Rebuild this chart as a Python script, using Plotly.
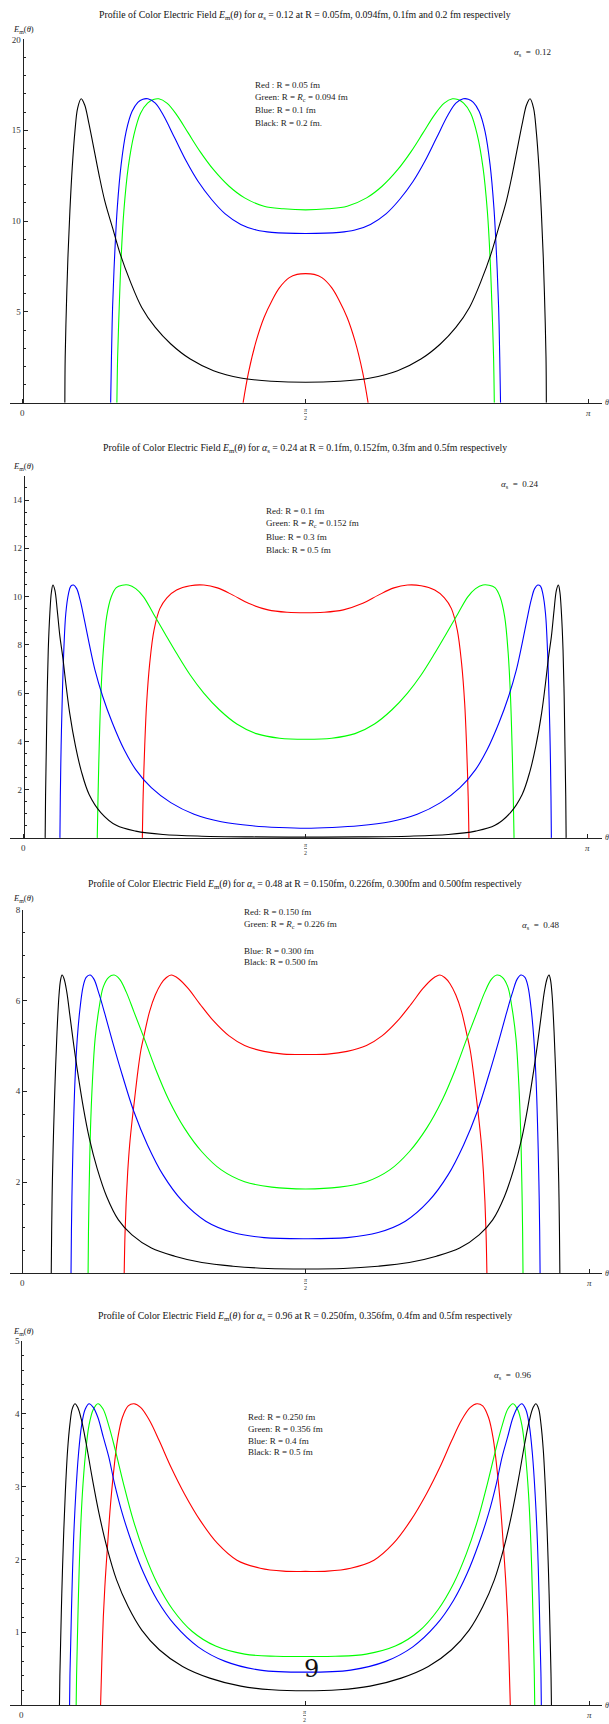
import plotly.graph_objects as go

W, H = 609, 1724

# ---------------- data: theta in units of pi (left half, 0 .. 1/2) ; E_m values ----------------
# Panel 1 : alpha_s = 0.12
p1_black_t = [0.0748, 0.0754, 0.0775, 0.0802, 0.0837, 0.0878, 0.0926, 0.0974, 0.1036, 0.1097, 0.1166, 0.1248,
              0.1351, 0.1454, 0.1591, 0.1728, 0.1900, 0.2106, 0.2346, 0.2620, 0.2963, 0.3374, 0.3855, 0.4403, 0.5]
p1_black_e = [0, 2.50, 5.25, 7.99, 10.55, 12.93, 14.94, 16.22, 16.73, 16.40, 15.48, 14.20,
              12.56, 11.10, 9.63, 8.17, 6.71, 5.25, 4.15, 3.24, 2.41, 1.77, 1.37, 1.19, 1.13]
p1_blue_t = [0.1557, 0.1571, 0.1591, 0.1626, 0.1674, 0.1742, 0.1831, 0.1934, 0.2037, 0.2126, 0.2215, 0.2346,
             0.2483, 0.2689, 0.2894, 0.3100, 0.3340, 0.3580, 0.3855, 0.4129, 0.4403, 0.5]
p1_blue_e = [0, 2.50, 5.25, 7.99, 10.73, 13.11, 14.94, 16.03, 16.54, 16.71, 16.73, 16.49,
             15.85, 14.57, 13.29, 12.19, 11.19, 10.40, 9.82, 9.51, 9.38, 9.32]
p1_green_t = [0.1667, 0.1680, 0.1708, 0.1742, 0.1790, 0.1866, 0.1968, 0.2085, 0.2209, 0.2311, 0.2407, 0.2551,
              0.2723, 0.2929, 0.3134, 0.3374, 0.3649, 0.3923, 0.4266, 0.4609, 0.5]
p1_green_e = [0, 2.50, 5.25, 7.99, 10.55, 12.93, 14.75, 15.94, 16.49, 16.69, 16.73, 16.49,
              15.85, 14.84, 13.84, 12.83, 11.92, 11.28, 10.82, 10.68, 10.62]
p1_red_t = [0.3896, 0.3992, 0.4129, 0.4266, 0.4403, 0.4540, 0.4712, 0.4849, 0.5]
p1_red_e = [0, 1.68, 3.42, 4.70, 5.61, 6.34, 6.89, 7.07, 7.11]

# Panel 2 : alpha_s = 0.24
p2_black_t = [0.0379, 0.0386, 0.0400, 0.0414, 0.0434, 0.0462, 0.0490, 0.0517, 0.0552, 0.0593, 0.0641, 0.0690,
              0.0745, 0.0814, 0.0917, 0.1021, 0.1159, 0.1366, 0.1641, 0.1986, 0.2469, 0.3159, 0.4055, 0.5]
p2_black_e = [0, 1.73, 3.80, 5.86, 7.79, 9.30, 10.19, 10.48, 10.26, 9.44, 8.34, 7.51,
              6.41, 5.17, 3.80, 2.76, 1.80, 1.05, 0.52, 0.28, 0.14, 0.07, 0.04, 0.03]
p2_blue_t = [0.0641, 0.0648, 0.0662, 0.0683, 0.0710, 0.0745, 0.0793, 0.0834, 0.0883, 0.0938, 0.1000, 0.1076,
             0.1159, 0.1262, 0.1400, 0.1572, 0.1779, 0.1986, 0.2262, 0.2607, 0.3021, 0.3503, 0.4055, 0.4538, 0.5]
p2_blue_e = [0, 1.73, 3.80, 5.86, 7.79, 9.30, 10.12, 10.43, 10.48, 10.33, 9.85, 9.02,
             8.06, 6.96, 5.86, 4.76, 3.66, 2.83, 2.08, 1.46, 0.98, 0.67, 0.50, 0.43, 0.40]
p2_green_t = [0.1303, 0.1317, 0.1338, 0.1366, 0.1407, 0.1469, 0.1552, 0.1641, 0.1745, 0.1855, 0.1986, 0.2124,
              0.2297, 0.2503, 0.2710, 0.2952, 0.3193, 0.3469, 0.3779, 0.4124, 0.4538, 0.5]
p2_green_e = [0, 1.73, 3.80, 5.86, 7.65, 9.16, 9.99, 10.37, 10.47, 10.48, 10.33, 9.99,
              9.30, 8.47, 7.65, 6.75, 6.00, 5.31, 4.72, 4.32, 4.13, 4.09]
p2_red_t = [0.2103, 0.2117, 0.2145, 0.2179, 0.2234, 0.2310, 0.2414, 0.2538, 0.2710, 0.2952, 0.3193, 0.3434,
            0.3710, 0.3986, 0.4331, 0.4676, 0.5]
p2_red_e = [0, 1.73, 3.80, 5.58, 7.24, 8.61, 9.50, 9.95, 10.27, 10.45, 10.48, 10.36,
            10.06, 9.72, 9.45, 9.35, 9.33]

# Panel 3 : alpha_s = 0.48
p3_black_t = [0.0514, 0.0521, 0.0534, 0.0555, 0.0582, 0.0616, 0.0651, 0.0678, 0.0705, 0.0740, 0.0788, 0.0842,
              0.0911, 0.0979, 0.1082, 0.1185, 0.1322, 0.1493, 0.1699, 0.1938, 0.2281, 0.2692, 0.3171, 0.3719,
              0.4336, 0.5]
p3_black_e = [0, 0.92, 2.01, 3.11, 4.21, 5.31, 6.12, 6.45, 6.56, 6.48, 6.19, 5.68,
              5.02, 4.43, 3.63, 2.97, 2.31, 1.68, 1.17, 0.84, 0.55, 0.37, 0.23, 0.15,
              0.10, 0.09]
p3_blue_t = [0.0863, 0.0870, 0.0884, 0.0904, 0.0932, 0.0973, 0.1021, 0.1075, 0.1130, 0.1199, 0.1267, 0.1356,
             0.1459, 0.1596, 0.1767, 0.1973, 0.2212, 0.2486, 0.2829, 0.3240, 0.3719, 0.4267, 0.5]
p3_blue_e = [0, 0.92, 2.01, 3.11, 4.21, 5.16, 5.82, 6.30, 6.51, 6.56, 6.47, 6.15,
             5.71, 5.09, 4.36, 3.55, 2.82, 2.16, 1.58, 1.14, 0.89, 0.78, 0.755]
p3_green_t = [0.1164, 0.1171, 0.1185, 0.1205, 0.1240, 0.1288, 0.1356, 0.1432, 0.1527, 0.1623, 0.1719, 0.1836,
              0.1973, 0.2144, 0.2349, 0.2589, 0.2863, 0.3171, 0.3514, 0.3925, 0.4404, 0.5]
p3_green_e = [0, 0.92, 2.01, 3.11, 4.21, 5.16, 5.82, 6.30, 6.51, 6.56, 6.47, 6.19,
              5.75, 5.20, 4.51, 3.81, 3.19, 2.67, 2.27, 2.01, 1.89, 1.85]
p3_red_t = [0.1801, 0.1815, 0.1836, 0.1863, 0.1897, 0.1938, 0.1986, 0.2041, 0.2096, 0.2158, 0.2247, 0.2349,
            0.2452, 0.2541, 0.2630, 0.2760, 0.2932, 0.3137, 0.3377, 0.3651, 0.3925, 0.4267, 0.4610, 0.5]
p3_red_e = [0, 0.84, 1.58, 2.23, 2.82, 3.33, 3.85, 4.43, 4.91, 5.27, 5.75, 6.12,
            6.37, 6.50, 6.56, 6.48, 6.26, 5.92, 5.55, 5.22, 5.01, 4.88, 4.82, 4.81]

# Panel 4 : alpha_s = 0.96
p4_black_t = [0.0670, 0.0677, 0.0690, 0.0711, 0.0738, 0.0772, 0.0813, 0.0854, 0.0895, 0.0943, 0.0991, 0.1059,
              0.1141, 0.1244, 0.1367, 0.1504, 0.1675, 0.1880, 0.2119, 0.2427, 0.2837, 0.3315, 0.3862, 0.4409, 0.5]
p4_black_e = [0, 0.39, 0.85, 1.53, 2.22, 2.90, 3.50, 3.86, 4.07, 4.14, 4.09, 3.91,
              3.59, 3.13, 2.63, 2.17, 1.72, 1.35, 1.03, 0.76, 0.53, 0.37, 0.26, 0.21, 0.196]
p4_blue_t = [0.0848, 0.0854, 0.0868, 0.0889, 0.0916, 0.0957, 0.1005, 0.1059, 0.1121, 0.1189, 0.1265, 0.1347,
             0.1442, 0.1538, 0.1640, 0.1777, 0.1948, 0.2153, 0.2392, 0.2700, 0.3110, 0.3588, 0.4204, 0.5]
p4_blue_e = [0, 0.39, 0.85, 1.53, 2.22, 2.90, 3.45, 3.84, 4.06, 4.14, 4.09, 3.95,
             3.68, 3.41, 3.04, 2.63, 2.22, 1.81, 1.44, 1.10, 0.80, 0.60, 0.48, 0.452]
p4_green_t = [0.0964, 0.0971, 0.0984, 0.1005, 0.1032, 0.1073, 0.1128, 0.1189, 0.1265, 0.1347, 0.1435, 0.1538,
              0.1654, 0.1798, 0.1969, 0.2167, 0.2392, 0.2666, 0.3008, 0.3418, 0.3930, 0.4477, 0.5]
p4_green_e = [0, 0.39, 0.85, 1.53, 2.22, 2.90, 3.45, 3.84, 4.06, 4.14, 4.07, 3.84,
              3.50, 3.04, 2.54, 2.08, 1.67, 1.31, 1.01, 0.81, 0.70, 0.67, 0.667]
p4_red_t = [0.1394, 0.1415, 0.1442, 0.1476, 0.1517, 0.1565, 0.1620, 0.1695, 0.1777, 0.1880, 0.1982, 0.2098,
            0.2256, 0.2427, 0.2632, 0.2871, 0.3144, 0.3452, 0.3794, 0.4204, 0.4614, 0.5]
p4_red_e = [0, 0.58, 1.21, 1.72, 2.20, 2.72, 3.18, 3.66, 3.95, 4.11, 4.14, 4.09,
            3.91, 3.63, 3.27, 2.90, 2.54, 2.22, 1.99, 1.88, 1.84, 1.836]

# ---------------- texts ----------------
alphas = ["0.12", "0.24", "0.48", "0.96"]
title_R = ["R = 0.05fm, 0.094fm, 0.1fm and 0.2 fm respectively",
           "R = 0.1fm, 0.152fm, 0.3fm and 0.5fm respectively",
           "R = 0.150fm, 0.226fm, 0.300fm and 0.500fm respectively",
           "R = 0.250fm, 0.356fm, 0.4fm and 0.5fm respectively"]
legend_texts = [
    ["Red : R = 0.05 fm", "Green: R = <i>R</i><sub>c</sub> = 0.094 fm", "Blue: R = 0.1 fm", "Black: R = 0.2 fm."],
    ["Red: R = 0.1 fm", "Green: R = <i>R</i><sub>c</sub> = 0.152 fm", "Blue: R = 0.3 fm", "Black: R = 0.5 fm"],
    ["Red: R = 0.150 fm", "Green: R = <i>R</i><sub>c</sub> = 0.226 fm", "Blue: R = 0.300 fm", "Black: R = 0.500 fm"],
    ["Red: R = 0.250 fm", "Green: R = 0.356 fm", "Blue: R = 0.4 fm", "Black: R = 0.5 fm"],
]
y_tickvals = [[5, 10, 15, 20], [2, 4, 6, 8, 10, 12, 14], [2, 4, 6, 8], [1, 2, 3, 4, 5]]
y_max = [20, 15, 8, 5]
y_minor = [1, 0.5, 0.5, 0.2]

curves = [
    [("red", p1_red_t, p1_red_e), ("#00ff00", p1_green_t, p1_green_e), ("blue", p1_blue_t, p1_blue_e), ("black", p1_black_t, p1_black_e)],
    [("red", p2_red_t, p2_red_e), ("#00ff00", p2_green_t, p2_green_e), ("blue", p2_blue_t, p2_blue_e), ("black", p2_black_t, p2_black_e)],
    [("red", p3_red_t, p3_red_e), ("#00ff00", p3_green_t, p3_green_e), ("blue", p3_blue_t, p3_blue_e), ("black", p3_black_t, p3_black_e)],
    [("red", p4_red_t, p4_red_e), ("#00ff00", p4_green_t, p4_green_e), ("blue", p4_blue_t, p4_blue_e), ("black", p4_black_t, p4_black_e)],
]

# ---------------- layout geometry (pixels) ----------------
geo = [
    dict(x0=22.5, xpi=588.7, ybot=399.0, ytop=34.5, title_y=10, em_y=24.5, ax=512, ay=48, lx=253, ly=[80, 93, 105.5, 118]),
    dict(x0=23.8, xpi=587.5, ybot=835.3, ytop=472.3, title_y=444, em_y=463, ax=499, ay=481, lx=264, ly=[507, 520, 533.5, 547]),
    dict(x0=22.1, xpi=589.0, ybot=1271.7, ytop=907.3, title_y=881.5, em_y=896, ax=520, ay=923, lx=242, ly=[910, 922, 948.3, 960]),
    dict(x0=21.4, xpi=589.5, ybot=1705.0, ytop=1340.0, title_y=1315, em_y=1330.5, ax=492, ay=1374, lx=246, ly=[1416.3, 1428.3, 1440.3, 1451.3]),
]

SERIF = "Liberation Serif"
AX = "#222222"


def px(x):
    return x / W


def py(y):
    return 1 - y / H


def mirrored(t, e):
    tt = list(t) + [1 - v for v in reversed(t[:-1])]
    ee = list(e) + list(reversed(e[:-1]))
    return tt, ee


fig = go.Figure()
annotations = []
layout_axes = {}

for i in range(4):
    g = geo[i]
    n = "" if i == 0 else str(i + 1)
    xa, ya = "x" + n, "y" + n
    for color, t, e in curves[i]:
        tt, ee = mirrored(t, e)
        fig.add_trace(go.Scatter(x=tt, y=ee, mode="lines", xaxis=xa, yaxis=ya,
                                 line=dict(color=color, width=1.1, shape="spline", smoothing=1.0),
                                 hoverinfo="skip", showlegend=False))
    span = g["xpi"] - g["x0"]
    layout_axes["xaxis" + n] = dict(
        domain=[px(10), px(602)], range=[(10 - g["x0"]) / span, (602 - g["x0"]) / span],
        anchor=ya, showline=True, linecolor=AX, linewidth=1, ticks="inside", ticklen=4,
        tickcolor=AX, tickwidth=1, tickmode="array", tickvals=[0, 0.5, 1], showticklabels=False,
        showgrid=False, zeroline=False, fixedrange=True)
    layout_axes["yaxis" + n] = dict(
        domain=[py(g["ybot"]), py(g["ytop"])], range=[0, y_max[i]], anchor="free", position=px(g["x0"]),
        showline=True, linecolor=AX, linewidth=1, ticks="inside", ticklen=4, tickcolor=AX, tickwidth=1,
        tickmode="array", tickvals=y_tickvals[i], ticktext=[str(v) for v in y_tickvals[i]],
        tickfont=dict(family=SERIF, size=9, color="#333"),
        minor=dict(ticks="inside", ticklen=2, tickcolor=AX, tickwidth=1, dtick=y_minor[i], tick0=0),
        showgrid=False, zeroline=False, fixedrange=True)

    # title
    annotations.append(dict(
        text="Profile of Color Electric Field <i>E</i><sub>m</sub>(<i>θ</i>) for <i>α</i><sub>s</sub> = "
             + alphas[i] + " at " + title_R[i],
        x=px(305), y=py(g["title_y"]), xref="paper", yref="paper", xanchor="center", yanchor="middle",
        showarrow=False, font=dict(family=SERIF, size=9.8, color="#111")))
    # y axis label
    annotations.append(dict(text="<i>E</i><sub>m</sub>(<i>θ</i>)", x=px(23), y=py(g["em_y"]), xref="paper",
                            yref="paper", xanchor="center", yanchor="middle", showarrow=False,
                            font=dict(family=SERIF, size=8.5, color="#222")))
    # alpha_s label
    annotations.append(dict(text="<i>α</i><sub>s</sub>  =  " + alphas[i], x=px(g["ax"]), y=py(g["ay"]),
                            xref="paper", yref="paper", xanchor="left", yanchor="middle", showarrow=False,
                            font=dict(family=SERIF, size=9, color="#222")))
    # legend-like text
    for k, txt in enumerate(legend_texts[i]):
        annotations.append(dict(text=txt, x=px(g["lx"]), y=py(g["ly"][k]), xref="paper", yref="paper",
                                xanchor="left", yanchor="middle", showarrow=False,
                                font=dict(family=SERIF, size=9, color="#222")))
    # x tick labels
    ylab = py(g["ybot"] + 10)
    annotations.append(dict(text="0", x=0, y=ylab, xref=xa, yref="paper", xanchor="center", yanchor="middle",
                            showarrow=False, font=dict(family=SERIF, size=9, color="#333")))
    annotations.append(dict(text="<i>π</i>", x=1, y=ylab, xref=xa, yref="paper", xanchor="center",
                            yanchor="middle", showarrow=False, font=dict(family=SERIF, size=9, color="#333")))
    annotations.append(dict(text="<u><i>π</i></u><br>2", x=0.5, y=py(g["ybot"] + 11), xref=xa, yref="paper",
                            xanchor="center", yanchor="middle", showarrow=False,
                            font=dict(family=SERIF, size=6, color="#333")))
    # axis variable at right edge
    annotations.append(dict(text="<i>θ</i>", x=px(603), y=py(g["ybot"]), xref="paper", yref="paper",
                            xanchor="left", yanchor="middle", showarrow=False,
                            font=dict(family=SERIF, size=8, color="#333")))

# page number
annotations.append(dict(text="9", x=px(311), y=py(1669), xref="paper", yref="paper", xanchor="center",
                        yanchor="middle", showarrow=False, font=dict(family="DejaVu Serif", size=24, color="#111")))

fig.update_layout(width=W, height=H, margin=dict(l=0, r=0, t=0, b=0), paper_bgcolor="white",
                  plot_bgcolor="white", showlegend=False, annotations=annotations, **layout_axes)

fig.write_html("out.html", config={"displayModeBar": False},
               post_script="document.body.style.margin='0px';document.body.style.overflow='hidden';")
